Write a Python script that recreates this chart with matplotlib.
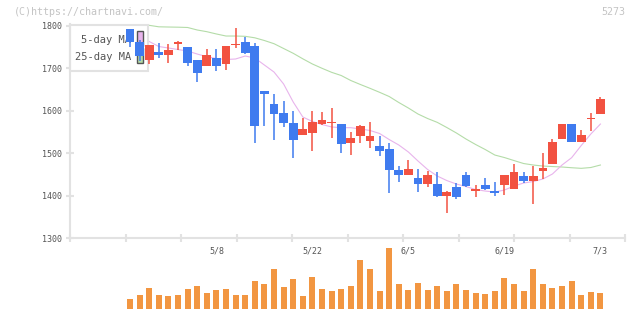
import numpy as np
import matplotlib
matplotlib.use("Agg")
import matplotlib.pyplot as plt
from matplotlib.patches import Rectangle

# ---------------- data ----------------
dates = ["4/22", "4/23", "4/24", "4/25", "4/26", "4/30", "5/1", "5/2", "5/7", "5/8",
         "5/9", "5/10", "5/13", "5/14", "5/15", "5/16", "5/17", "5/20", "5/21", "5/22",
         "5/23", "5/24", "5/27", "5/28", "5/29", "5/30", "5/31", "6/3", "6/4", "6/5",
         "6/6", "6/7", "6/10", "6/11", "6/12", "6/13", "6/14", "6/17", "6/18", "6/19",
         "6/20", "6/21", "6/24", "6/25", "6/26", "6/27", "6/28", "7/1", "7/2", "7/3"]

opens = [1793, 1763, 1721, 1739, 1732, 1757, 1750, 1720, 1706, 1725,
         1711, 1755, 1762, 1753, 1647, 1616, 1595, 1571, 1544, 1549,
         1570, 1572, 1570, 1525, 1542, 1530, 1517, 1510, 1461, 1450,
         1442, 1428, 1428, 1400, 1421, 1449, 1412, 1425, 1411, 1426,
         1417, 1447, 1436, 1459, 1476, 1534, 1569, 1527, 1582, 1593]
highs = [1793, 1766, 1755, 1759, 1757, 1765, 1750, 1720, 1746, 1746,
         1753, 1795, 1775, 1760, 1647, 1641, 1623, 1600, 1584, 1600,
         1597, 1607, 1570, 1550, 1567, 1574, 1541, 1524, 1470, 1484,
         1463, 1458, 1456, 1411, 1430, 1456, 1425, 1442, 1432, 1449,
         1475, 1456, 1470, 1501, 1534, 1569, 1569, 1555, 1595, 1633]
lows = [1751, 1718, 1710, 1725, 1714, 1743, 1706, 1669, 1706, 1695,
        1697, 1749, 1733, 1525, 1565, 1532, 1563, 1490, 1544, 1505,
        1567, 1537, 1501, 1497, 1525, 1513, 1494, 1407, 1433, 1450,
        1410, 1421, 1398, 1360, 1393, 1421, 1398, 1414, 1400, 1403,
        1417, 1431, 1381, 1440, 1476, 1534, 1527, 1527, 1553, 1593]
closes = [1763, 1730, 1755, 1732, 1743, 1763, 1713, 1690, 1732, 1706,
          1753, 1756, 1737, 1565, 1641, 1593, 1571, 1532, 1558, 1575,
          1579, 1575, 1523, 1536, 1564, 1542, 1506, 1461, 1450, 1463,
          1428, 1449, 1400, 1409, 1398, 1423, 1416, 1417, 1407, 1449,
          1456, 1436, 1447, 1466, 1527, 1569, 1527, 1543, 1583, 1628]

ma5 = [np.nan, 1767.0, 1763.5, 1751.7, 1748.2, 1744.6, 1741.1, 1734.0, 1727.7, 1723.4,
       1721.1, 1722.3, 1729.3, 1724.6, 1708.1, 1691.6, 1663.4, 1621.0, 1585.7, 1575.0,
       1568.0, 1562.2, 1560.5, 1560.5, 1557.5, 1553.9, 1546.8, 1532.6, 1519.7, 1503.2,
       1482.0, 1462.0, 1446.7, 1436.0, 1427.8, 1421.9, 1414.8, 1411.3, 1408.9, 1413.7,
       1423.1, 1430.2, 1433.7, 1439.6, 1451.4, 1472.6, 1489.8, 1518.5, 1545.6, 1569.1]
ma25 = [np.nan, 1803.0, 1801.6, 1798.1, 1797.6, 1797.2, 1796.5, 1790.6, 1786.6, 1781.2,
        1776.4, 1776.4, 1775.7, 1772.2, 1765.8, 1758.3, 1747.0, 1735.7, 1722.7, 1710.5,
        1700.4, 1690.9, 1683.4, 1671.6, 1662.2, 1653.2, 1643.8, 1633.9, 1619.8, 1606.8,
        1592.7, 1582.1, 1573.1, 1560.9, 1548.0, 1533.8, 1520.9, 1509.1, 1496.1, 1490.2,
        1483.1, 1476.1, 1472.6, 1470.2, 1469.0, 1467.9, 1466.2, 1464.8, 1466.7, 1472.6]

volume = [10.0, 13.7, 21.0, 13.7, 13.0, 13.7, 20.0, 23.0, 16.0, 19.0,
          20.0, 13.7, 13.7, 28.0, 25.0, 40.0, 22.0, 30.0, 13.0, 32.0,
          20.0, 18.0, 20.0, 23.0, 49.0, 40.0, 18.0, 61.0, 25.0, 19.0,
          26.0, 19.0, 23.0, 18.0, 25.0, 19.0, 16.0, 15.0, 18.0, 31.0,
          25.0, 18.0, 40.0, 25.0, 21.0, 23.0, 28.0, 14.0, 17.0, 16.0]

y_ticks = [1300, 1400, 1500, 1600, 1700, 1800]
legend_labels = ["5-day MA", "25-day MA"]

# ---------------- style ----------------
UP = "#f25241"
DOWN = "#3f7bef"
VOL = "#f29641"
MA5C = "#e8b4ec"
MA25C = "#b4dca8"
AXC = "#e2e2e2"
TXT = "#555555"
MONO = "DejaVu Sans Mono"

W, H = 640, 311
AX_L, AX_R, AX_T, AX_B = 70, 625, 24.3, 238.3

fig = plt.figure(figsize=(6.4, 3.11), dpi=100)
ax = fig.add_axes([AX_L / W, (H - AX_B) / H, (AX_R - AX_L) / W, (AX_B - AX_T) / H])
axv = fig.add_axes([AX_L / W, (H - 308.7) / H, (AX_R - AX_L) / W, 65 / H], sharex=ax)


def axx(px):
    return (px - AX_L) / (AX_R - AX_L)


def axy(py):
    return (AX_B - py) / (AX_B - AX_T)


n = len(closes)
x = np.arange(n)
o = np.array(opens, float)
c = np.array(closes, float)
h = np.array(highs, float)
l = np.array(lows, float)
colors = [UP if cc >= oo else DOWN for oo, cc in zip(o, c)]

# MAs (under the legend)
ax.plot(x, ma25, color=MA25C, lw=0.8, zorder=1)
ax.plot(x, ma5, color=MA5C, lw=0.8, zorder=1)

# legend box (drawn between MA lines and candles)
ax.add_patch(Rectangle((axx(70), axy(71)), axx(148) - axx(70), axy(25) - axy(71),
                       transform=ax.transAxes, facecolor="white", edgecolor=AXC,
                       lw=1.5, zorder=2, clip_on=False))
for lab, col, ty, my0, my1 in [(legend_labels[0], MA5C, 40, 31, 46),
                               (legend_labels[1], MA25C, 56.7, 48.3, 63.3)]:
    ax.text(axx(131), axy(ty), lab, transform=ax.transAxes, ha="right", va="center",
            fontfamily=MONO, fontsize=7.5, color=TXT, zorder=2.5)
    ax.add_patch(Rectangle((axx(137), axy(my1)), axx(142.5) - axx(137), axy(my0) - axy(my1),
                           transform=ax.transAxes, facecolor=col, edgecolor="#555555",
                           lw=1.0, zorder=2.5, clip_on=False))

# candles
ax.vlines(x, l, h, colors=colors, lw=1.1, zorder=4)
body_bot = np.minimum(o, c)
body_h = np.maximum(np.abs(c - o), 2.4)
ax.bar(x, body_h, bottom=body_bot, width=0.9, color=colors, lw=0, zorder=4)

ax.set_xlim(-6.25, 51.56)
ax.set_ylim(1300, 1804)

for s in ["top", "right"]:
    ax.spines[s].set_visible(False)
for s in ["left", "bottom"]:
    ax.spines[s].set_color(AXC)
    ax.spines[s].set_linewidth(1.5)

ax.set_yticks(y_ticks)
ax.set_yticklabels([str(v) for v in y_ticks], fontfamily=MONO, fontsize=6, color=TXT)
ax.tick_params(axis="y", direction="inout", length=6, width=1.5, color=AXC, pad=3)

lab_idx = [i for i in range(n) if i % 10 == 9]
ax.set_xticks(lab_idx)
ax.set_xticklabels([dates[i] for i in lab_idx], fontfamily=MONO, fontsize=6, color=TXT)
ax.tick_params(axis="x", which="major", length=0, pad=6)
ax.set_xticks(np.linspace(-6.25, 51.56, 11), minor=True)
ax.tick_params(axis="x", which="minor", direction="inout", length=6, width=1.5, color=AXC)

# volume
axv.bar(x, volume, width=0.62, color=VOL, lw=0)
axv.set_ylim(0, 65)
axv.axis("off")
axv.patch.set_alpha(0)

fig.text(14 / W, 1 - 12 / H, "(C)https://chartnavi.com/", fontfamily=MONO,
         fontsize=7.2, color="#c4c4c4", va="center", ha="left")
fig.text(625 / W, 1 - 12 / H, "5273", fontfamily=MONO, fontsize=7.2,
         color="#c4c4c4", va="center", ha="right")

fig.savefig("out.png", dpi=100)
